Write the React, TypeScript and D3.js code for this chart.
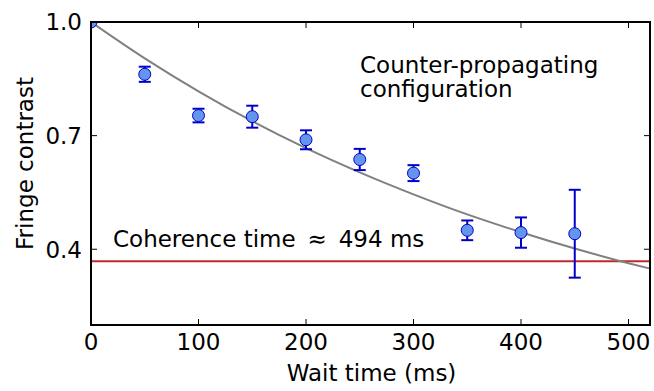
import React from 'react';
import * as d3 from 'd3';

// measured points (wait time in ms, contrast, error)
const waitTimes = [0, 50, 100, 150, 200, 250, 300, 350, 400, 450];
const contrast = [1.0, 0.862, 0.753, 0.75, 0.689, 0.637, 0.601, 0.45, 0.444, 0.441];
const contrastErr = [0, 0.02, 0.018, 0.029, 0.025, 0.028, 0.021, 0.026, 0.04, 0.116];

// fit curve
const fitTimes = [0, 50, 100, 150, 200, 250, 300, 350, 400, 450, 500, 520];
const fitValues = [1.0, 0.904, 0.817, 0.738, 0.667, 0.603, 0.545, 0.492, 0.445, 0.402, 0.363, 0.349];

const coherenceLevel = 0.368;
const xTicks = [0, 100, 200, 300, 400, 500];
const yTicks = [0.4, 0.7, 1.0];

const W = 654;
const H = 391;
const margin = { top: 22, right: 4, bottom: 66, left: 91 };
const font = 'DejaVu Sans, sans-serif';
const fs = 23;

export default function App() {
    const iw = W - margin.left - margin.right;
    const ih = H - margin.top - margin.bottom;

    const x = d3.scaleLinear().domain([0, 520]).range([0, iw]);
    const y = d3.scaleLinear().domain([0.2, 1.0]).range([ih, 0]);

    const fitLine = d3.line<number>()
        .x((_, i) => x(fitTimes[i]))
        .y(d => y(d))
        .curve(d3.curveMonotoneX);

    const points = waitTimes.map((t, i) => ({ t, v: contrast[i], e: contrastErr[i] }));
    const tickLen = 6;

    return (
        <svg width={W} height={H} style={{ position: 'absolute', left: 0, top: 0 }} fontFamily={font}>
            <rect width={W} height={H} fill="#fff" />
            <defs>
                <clipPath id="plotClip">
                    <rect width={iw} height={ih} />
                </clipPath>
            </defs>
            <g transform={`translate(${margin.left},${margin.top})`}>
                <g clipPath="url(#plotClip)">
                    <line x1={0} x2={iw} y1={y(coherenceLevel)} y2={y(coherenceLevel)} stroke="#c0282d" strokeWidth={2} />
                    <path d={fitLine(fitValues) ?? ''} fill="none" stroke="#808080" strokeWidth={2} />
                    {points.map((p, i) => (
                        <g key={i}>
                            {p.e > 0 && (
                                <g stroke="#0000cc" strokeWidth={2}>
                                    <line x1={x(p.t)} x2={x(p.t)} y1={y(p.v + p.e)} y2={y(p.v - p.e)} />
                                    <line x1={x(p.t) - 6} x2={x(p.t) + 6} y1={y(p.v + p.e)} y2={y(p.v + p.e)} />
                                    <line x1={x(p.t) - 6} x2={x(p.t) + 6} y1={y(p.v - p.e)} y2={y(p.v - p.e)} />
                                </g>
                            )}
                            <circle cx={x(p.t)} cy={y(p.v)} r={6} fill="#6495ed" stroke="#0000cc" strokeWidth={1} />
                        </g>
                    ))}
                </g>

                {/* ticks, inward on all sides */}
                {xTicks.map(t => (
                    <g key={'x' + t} stroke="#000" strokeWidth={1}>
                        <line x1={x(t)} x2={x(t)} y1={ih} y2={ih - tickLen} />
                        <line x1={x(t)} x2={x(t)} y1={0} y2={tickLen} />
                    </g>
                ))}
                {yTicks.map(t => (
                    <g key={'y' + t} stroke="#000" strokeWidth={1}>
                        <line x1={0} x2={tickLen} y1={y(t)} y2={y(t)} />
                        <line x1={iw} x2={iw - tickLen} y1={y(t)} y2={y(t)} />
                    </g>
                ))}
                <rect width={iw} height={ih} fill="none" stroke="#000" strokeWidth={2} />

                {xTicks.map(t => (
                    <text key={'xl' + t} x={x(t)} y={ih + 25} textAnchor="middle" fontSize={fs}>{t}</text>
                ))}
                {yTicks.map(t => (
                    <text key={'yl' + t} x={-9} y={y(t)} dy="0.36em" textAnchor="end" fontSize={fs}>{d3.format('.1f')(t)}</text>
                ))}

                <text x={iw / 2 + 1} y={ih + 56} textAnchor="middle" fontSize={fs}>Wait time (ms)</text>
                <text transform={`translate(${-58},${ih / 2 - 10}) rotate(-90)`} textAnchor="middle" fontSize={fs}>Fringe contrast</text>

                <text x={269} y={51} fontSize={fs}>Counter-propagating</text>
                <text x={269} y={75} fontSize={fs}>configuration</text>
                <text x={22} y={225} fontSize={fs} xmlSpace="preserve">Coherence time {'\u2009'}≈{'\u2009'} 494 ms</text>
            </g>
        </svg>
    );
}
